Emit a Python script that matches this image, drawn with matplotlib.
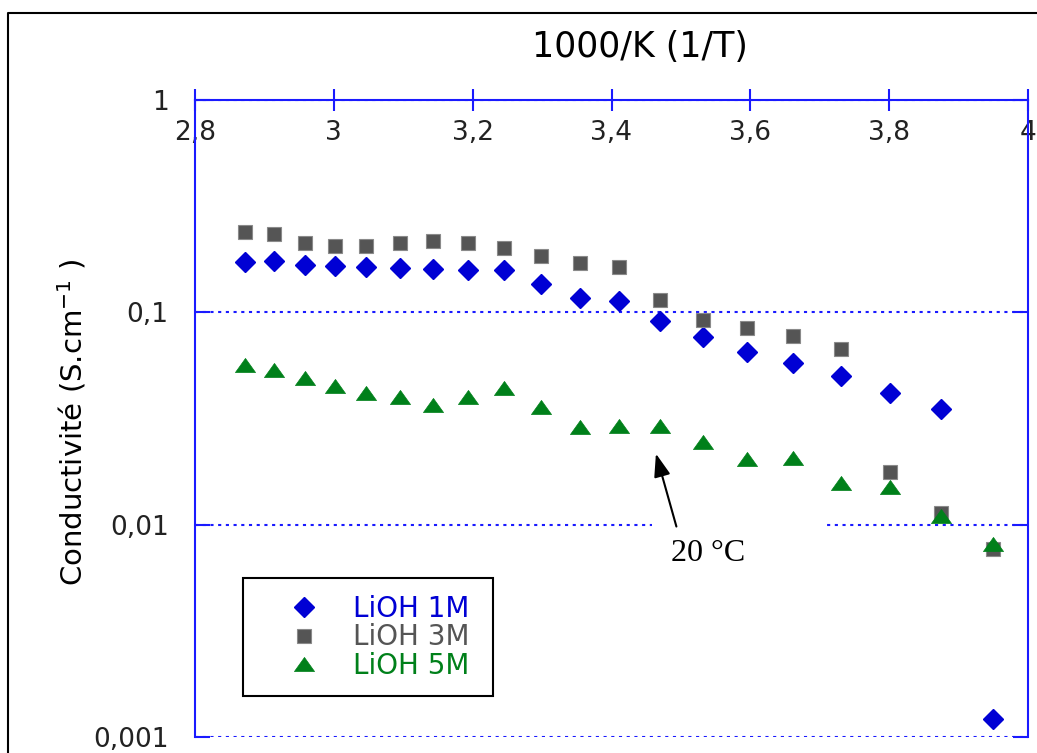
import matplotlib
matplotlib.use('Agg')
import matplotlib.pyplot as plt
from matplotlib.lines import Line2D
from matplotlib.patches import Rectangle
from matplotlib.path import Path
from matplotlib.ticker import FixedLocator, FixedFormatter, NullLocator

plt.rcParams['font.family'] = ['DejaVu Sans']
plt.rcParams['mathtext.default'] = 'regular'

# Data (x = 1000/T)
inv_T = [2.872, 2.914, 2.958, 3.002, 3.047, 3.095, 3.143, 3.193, 3.245, 3.299,
         3.354, 3.411, 3.470, 3.532, 3.595, 3.661, 3.730, 3.801, 3.875, 3.950]
lioh_1m = [0.172, 0.174, 0.167, 0.166, 0.163, 0.161, 0.160, 0.159, 0.158, 0.136,
           0.117, 0.113, 0.0907, 0.0765, 0.0653, 0.0575, 0.0504, 0.0418, 0.0350, 0.00121]
lioh_3m = [0.239, 0.233, 0.212, 0.205, 0.205, 0.212, 0.216, 0.212, 0.201, 0.184,
           0.170, 0.164, 0.114, 0.0917, 0.0843, 0.0776, 0.0669, 0.0177, 0.0114, 0.0077]
lioh_5m = [0.0567, 0.0537, 0.0490, 0.0448, 0.0416, 0.0400, 0.0365, 0.0399, 0.0440, 0.0357,
           0.0288, 0.0293, 0.0293, 0.0244, 0.0203, 0.0206, 0.0157, 0.0150, 0.0110, 0.0081]
series_labels = ['LiOH 1M', 'LiOH 3M', 'LiOH 5M']

x_ticks = [2.8, 3.0, 3.2, 3.4, 3.6, 3.8, 4.0]
x_tick_labels = ['2,8', '3', '3,2', '3,4', '3,6', '3,8', '4']
y_ticks = [0.001, 0.01, 0.1, 1]
y_tick_labels = ['0,001', '0,01', '0,1', '1']

blue = '#0000d4'
axis_blue = '#1a1aff'
grey = '#555555'
green = '#00801a'

fig = plt.figure(figsize=(10.37, 7.53), dpi=100)
ax = fig.add_axes([195 / 1037, 1 - 737 / 753, (1028 - 195) / 1037, (737 - 100) / 753])

# flattened triangle marker
tri = Path([(-1, -0.7), (1, -0.7), (0, 0.7), (-1, -0.7)],
           [Path.MOVETO, Path.LINETO, Path.LINETO, Path.CLOSEPOLY])

ax.plot(inv_T, lioh_1m, linestyle='none', marker='D', ms=10, color=blue,
        mec=blue, label=series_labels[0], zorder=3)
ax.plot(inv_T, lioh_3m, linestyle='none', marker='s', ms=10.5, color=grey,
        mec='#8a8a8a', mew=0.8, label=series_labels[1], zorder=3)
ax.plot(inv_T, lioh_5m, linestyle='none', marker=tri, ms=14.5, color=green,
        mec=green, mew=0.5, label=series_labels[2], zorder=3)

ax.set_yscale('log')
ax.set_xlim(2.8, 4.0)
ax.set_ylim(0.001, 1)

# x axis drawn along the top, labels below the line
ax.spines['bottom'].set_position(('axes', 1.0))
ax.spines['top'].set_visible(False)
for s in ['bottom', 'left', 'right']:
    ax.spines[s].set_color(axis_blue)
    ax.spines[s].set_linewidth(1.5)

ax.xaxis.set_major_locator(FixedLocator(x_ticks))
ax.xaxis.set_major_formatter(FixedFormatter(x_tick_labels))
ax.yaxis.set_major_locator(FixedLocator(y_ticks))
ax.yaxis.set_major_formatter(FixedFormatter(y_tick_labels))
ax.yaxis.set_minor_locator(NullLocator())
ax.xaxis.set_minor_locator(NullLocator())

ax.tick_params(axis='x', direction='inout', length=16, width=1.5, color=axis_blue,
               labelsize=19, pad=6.5, labelcolor='#222222')
ax.tick_params(axis='y', direction='in', length=11, width=1.5, color=axis_blue,
               labelsize=19, pad=19, right=True, labelcolor='#222222')

ax.grid(axis='y', which='major', color=axis_blue, linewidth=1.5,
        linestyle=(0, (1.5, 2.2)))
ax.grid(axis='x', visible=False)

# white gap behind the annotation
ax.add_patch(Rectangle((3.458, 0.0088), 0.248, 0.0025, facecolor='white',
                       edgecolor='none', zorder=2))

ax.annotate('', xy=(3.464, 0.0216), xytext=(3.4935, 0.0098),
            arrowprops=dict(arrowstyle='-|>,head_length=1.4,head_width=0.5',
                            color='black', lw=1.5, shrinkA=0, shrinkB=0),
            zorder=4)
ax.text(3.5396, 0.0073, '20 °C', fontsize=23, family='Liberation Serif',
        ha='center', va='center', zorder=4)

fig.text(640 / 1037, 1 - 47 / 753, '1000/K (1/T)', fontsize=25,
         ha='center', va='center')
fig.text(72 / 1037, 1 - 422 / 753, 'Conductivité (S.cm$^{-1}$ )', fontsize=21,
         rotation=90, ha='center', va='center')

leg = ax.legend(loc='upper left', mode='expand',
                bbox_to_anchor=(243 / 1037, 1 - 692 / 753, 250 / 1037, 114 / 753),
                bbox_transform=fig.transFigure, borderaxespad=0,
                fontsize=20, fancybox=False, framealpha=1, edgecolor='black',
                borderpad=0.6, labelspacing=0.02, handlelength=3.2,
                handletextpad=0.15)
leg.get_frame().set_linewidth(1.5)
for text, col in zip(leg.get_texts(), [blue, grey, green]):
    text.set_color(col)

# outer frame (left and top edges)
fig.add_artist(Line2D([8 / 1037, 8 / 1037, 1.01], [-0.01, 1 - 13 / 753, 1 - 13 / 753],
                      color='black', lw=1.5))

fig.savefig('out.png', dpi=100)
